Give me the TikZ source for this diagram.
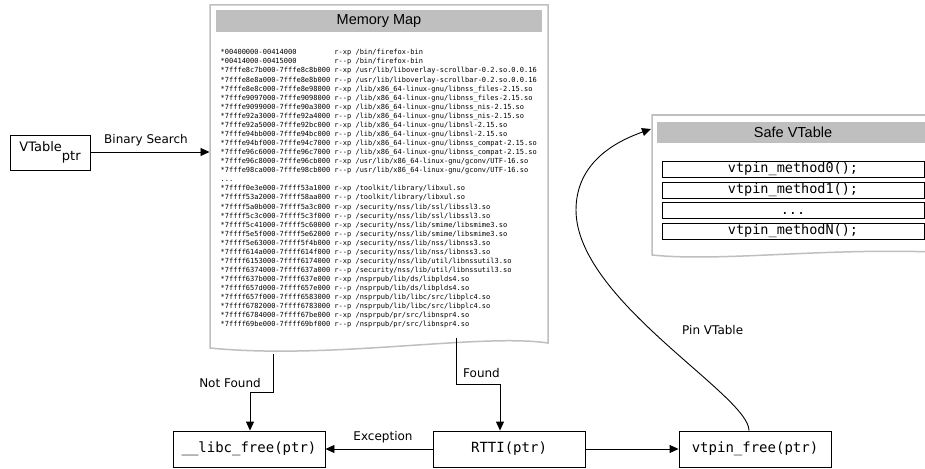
\documentclass[tikz,border=0pt]{standalone}
\usepackage{fontspec}
\setmainfont{DejaVu Sans}
\setmonofont{DejaVu Sans Mono}
\newfontfamily\headfont{Liberation Sans}
\usetikzlibrary{arrows.meta}
\begin{document}
\begin{tikzpicture}[x=1pt,y=-1pt,
  box/.style={draw, line width=0.9pt, minimum width=152pt, minimum height=36pt, inner sep=0pt, font=\ttfamily\fontsize{14}{16}\selectfont},
  conn/.style={draw, line width=0.9pt, -{Triangle[length=9pt,width=8pt]}},
  lbl/.style={font=\fontsize{12}{14}\selectfont, inner sep=0pt},
  doc/.style={draw=black!25, line width=1.5pt, fill=white},
  bar/.style={fill=black!25, draw=none},
  head/.style={font=\headfont\fontsize{14.5}{16}\selectfont, inner sep=0pt},
  meth/.style={draw, line width=0.9pt, minimum width=262pt, minimum height=16pt, inner sep=0pt, text height=10pt, text depth=3pt, font=\ttfamily\fontsize{13.5}{14}\selectfont}
]
\useasboundingbox (0,0) rectangle (925,468);

% Memory map document
\path[doc] (210,5) -- (548,5) -- (548,343) .. controls (480,333) and (330,360) .. (210,348) -- cycle;
\path[bar] (216,10) rectangle (542,32);
\node[head] (mmtitle) at (379,21) {Memory Map};
\node[anchor=north west, inner sep=0pt, align=left, font=\ttfamily\fontsize{7}{9.07}\selectfont] (mmtext) at (220.5,49.3) {%
*00400000-00414000~~~~~~~~~r-xp /bin/firefox-bin\\
*00414000-00415000~~~~~~~~~r--p /bin/firefox-bin\\
*7fffe8c7b000-7fffe8c8b000 r-xp /usr/lib/liboverlay-scrollbar-0.2.so.0.0.16\\
*7fffe8e8a000-7fffe8e8b000 r--p /usr/lib/liboverlay-scrollbar-0.2.so.0.0.16\\
*7fffe8e8c000-7fffe8e98000 r-xp /lib/x86\_64-linux-gnu/libnss\_files-2.15.so\\
*7fffe9097000-7fffe9098000 r--p /lib/x86\_64-linux-gnu/libnss\_files-2.15.so\\
*7fffe9099000-7fffe90a3000 r-xp /lib/x86\_64-linux-gnu/libnss\_nis-2.15.so\\
*7fffe92a3000-7fffe92a4000 r--p /lib/x86\_64-linux-gnu/libnss\_nis-2.15.so\\
*7fffe92a5000-7fffe92bc000 r-xp /lib/x86\_64-linux-gnu/libnsl-2.15.so\\
*7fffe94bb000-7fffe94bc000 r--p /lib/x86\_64-linux-gnu/libnsl-2.15.so\\
*7fffe94bf000-7fffe94c7000 r-xp /lib/x86\_64-linux-gnu/libnss\_compat-2.15.so\\
*7fffe96c6000-7fffe96c7000 r--p /lib/x86\_64-linux-gnu/libnss\_compat-2.15.so\\
*7fffe96c8000-7fffe96cb000 r-xp /usr/lib/x86\_64-linux-gnu/gconv/UTF-16.so\\
*7fffe98ca000-7fffe98cb000 r--p /usr/lib/x86\_64-linux-gnu/gconv/UTF-16.so\\
...\\
*7ffff0e3e000-7ffff53a1000 r-xp /toolkit/library/libxul.so\\
*7ffff53a2000-7ffff58aa000 r--p /toolkit/library/libxul.so\\
*7ffff5a0b000-7ffff5a3c000 r-xp /security/nss/lib/ssl/libssl3.so\\
*7ffff5c3c000-7ffff5c3f000 r--p /security/nss/lib/ssl/libssl3.so\\
*7ffff5c41000-7ffff5c60000 r-xp /security/nss/lib/smime/libsmime3.so\\
*7ffff5e5f000-7ffff5e62000 r--p /security/nss/lib/smime/libsmime3.so\\
*7ffff5e63000-7ffff5f4b000 r-xp /security/nss/lib/nss/libnss3.so\\
*7ffff614a000-7ffff614f000 r--p /security/nss/lib/nss/libnss3.so\\
*7ffff6153000-7ffff6174000 r-xp /security/nss/lib/util/libnssutil3.so\\
*7ffff6374000-7ffff637a000 r--p /security/nss/lib/util/libnssutil3.so\\
*7ffff637b000-7ffff637e000 r-xp /nsprpub/lib/ds/libplds4.so\\
*7ffff657d000-7ffff657e000 r--p /nsprpub/lib/ds/libplds4.so\\
*7ffff657f000-7ffff6583000 r-xp /nsprpub/lib/libc/src/libplc4.so\\
*7ffff6782000-7ffff6783000 r--p /nsprpub/lib/libc/src/libplc4.so\\
*7ffff6784000-7ffff67be000 r-xp /nsprpub/pr/src/libnspr4.so\\
*7ffff69be000-7ffff69bf000 r--p /nsprpub/pr/src/libnspr4.so};

% Safe VTable document
\path[doc] (652,115) -- (934,115) -- (934,252) .. controls (820,248) and (720,262) .. (652,255) -- cycle;
\path[bar] (657,122) rectangle (929,143);
\node[head] (svtitle) at (793,132) {Safe VTable};
\node[meth] (m0) at (793,169) {vtpin\_method0();};
\node[meth] (m1) at (793,190) {vtpin\_method1();};
\node[meth] (m2) at (793,210.5) {...};
\node[meth] (mN) at (793,231) {vtpin\_methodN();};

% Boxes
\node[draw, line width=0.9pt, minimum width=80pt, minimum height=35pt, inner sep=0pt, font=\fontsize{13}{15}\selectfont] (vptr) at (50,152.5) {VTable\raisebox{-8.5pt}{ptr}};
\node[box] (libc) at (249,449) {\_\_libc\_free(ptr)};
\node[box] (rtti) at (509,449) {RTTI(ptr)};
\node[box] (vfree) at (755,449) {vtpin\_free(ptr)};

% connector end points on the documents
\coordinate (mmleft) at (209.5,152);
\coordinate (nfS) at (273,354);
\coordinate (fS) at (456,338);
\coordinate (pinEnd) at (651,129);

% connectors
\draw[conn] (vptr.east |- mmleft) -- (mmleft);
\node[lbl] (lbs) at (146,140) {Binary Search};
\draw[conn] (nfS) -- ++(0,38) -| ([xshift=1pt]libc.north);
\node[lbl] (lnf) at (230,383) {Not Found};
\draw[conn] (fS) -- ++(0,46) -| ([xshift=-9pt]rtti.north);
\node[lbl, anchor=west] (lf) at (463,373) {Found};
\draw[conn] (rtti.west) -- (libc.east);
\node[lbl] (lex) at (383,437) {Exception};
\draw[conn] (rtti.east) -- (vfree.west);
\draw[conn] ([xshift=-6pt]vfree.north) .. controls (749,395) and (576,300) .. (576,210) .. controls (576,160) and (620,140) .. (pinEnd);
\node[lbl, anchor=west] (lpin) at (682,330) {Pin VTable};
\end{tikzpicture}
\end{document}
